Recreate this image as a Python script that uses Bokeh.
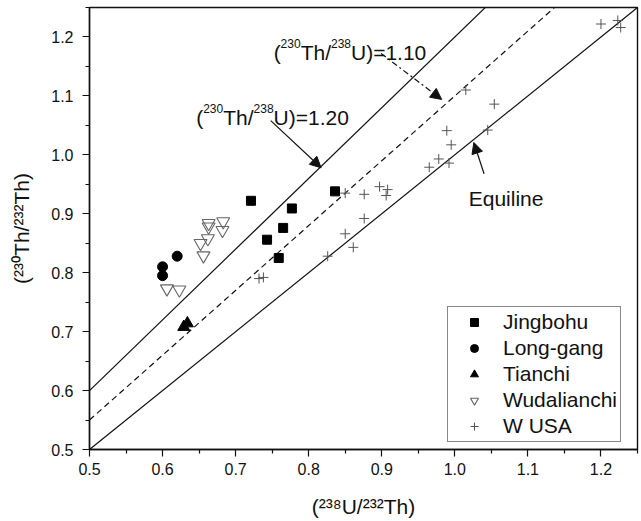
import math
from bokeh.plotting import figure
from bokeh.models import Label, Arrow, NormalHead, FixedTicker, Legend, LegendItem, Range1d
from bokeh.embed import file_html
from bokeh.resources import INLINE

# ---------------- data ----------------
jingbohu_x = [0.721, 0.777, 0.765, 0.743, 0.759, 0.836]
jingbohu_y = [0.922, 0.909, 0.876, 0.856, 0.825, 0.938]
longgang_x = [0.620, 0.600, 0.600]
longgang_y = [0.828, 0.810, 0.795]
tianchi_x = [0.629, 0.634]
tianchi_y = [0.708, 0.714]
wuda_x = [0.606, 0.623, 0.656, 0.652, 0.662, 0.663, 0.663, 0.683, 0.682]
wuda_y = [0.773, 0.771, 0.829, 0.850, 0.858, 0.884, 0.878, 0.887, 0.872]
wusa_x = [0.732, 0.738, 0.826, 0.850, 0.861, 0.850, 0.876, 0.876, 0.897, 0.908, 0.906,
          0.965, 0.978, 0.992, 0.995, 0.989, 1.045, 1.015, 1.054, 1.200, 1.223, 1.227]
wusa_y = [0.790, 0.792, 0.828, 0.866, 0.843, 0.935, 0.933, 0.892, 0.946, 0.941, 0.931,
          0.979, 0.993, 0.986, 1.017, 1.041, 1.042, 1.110, 1.086, 1.222, 1.228, 1.216]

ratio_values = [1.20, 1.10, 1.00]   # (230Th/238U) reference lines

x_ticks = [0.5, 0.6, 0.7, 0.8, 0.9, 1.0, 1.1, 1.2]
x_tick_labels = ["0.5", "0.6", "0.7", "0.8", "0.9", "1.0", "1.1", "1.2"]
x_minor = [0.55, 0.65, 0.75, 0.85, 0.95, 1.05, 1.15, 1.25]
y_ticks = [0.5, 0.6, 0.7, 0.8, 0.9, 1.0, 1.1, 1.2]
y_tick_labels = ["0.5", "0.6", "0.7", "0.8", "0.9", "1.0", "1.1", "1.2"]
y_minor = [0.55, 0.65, 0.75, 0.85, 0.95, 1.05, 1.15, 1.25]

x_title = "(²³⁸U/²³²Th)"
y_title = "(²³⁰Th/²³²Th)"
series_names = ["Jingbohu", "Long-gang", "Tianchi", "Wudalianchi", "W USA"]

X_LO, X_HI = 0.5, 1.25
Y_LO, Y_HI = 0.5, 1.25

FONT = "Liberation Sans"
INK = "#111111"

p = figure(frame_width=548, frame_height=442, output_backend="svg", toolbar_location=None,
           x_range=Range1d(X_LO, X_HI), y_range=Range1d(Y_LO, Y_HI),
           min_border_left=89, min_border_right=4, min_border_top=7, min_border_bottom=72)
p.background_fill_color = "white"
p.border_fill_color = "white"
p.outline_line_color = INK
p.outline_line_width = 1.4
p.xgrid.visible = False
p.ygrid.visible = False

for ax, ticks, labels, minor, standoff, title, tstand in (
        (p.xaxis[0], x_ticks, x_tick_labels, x_minor, 6, x_title, 17),
        (p.yaxis[0], y_ticks, y_tick_labels, y_minor, 9, y_title, 15)):
    ax.ticker = FixedTicker(ticks=ticks, minor_ticks=minor)
    ax.major_label_overrides = {t: l for t, l in zip(ticks, labels)}
    ax.major_label_text_font = FONT
    ax.major_label_text_font_size = "16px"
    ax.major_label_text_color = INK
    ax.major_label_standoff = standoff
    ax.axis_label = title
    ax.axis_label_text_font = FONT
    ax.axis_label_text_font_size = "21px"
    ax.axis_label_text_font_style = "normal"
    ax.axis_label_text_color = INK
    ax.axis_label_standoff = tstand
    ax.axis_line_color = INK
    ax.axis_line_width = 1.4
    ax.major_tick_line_color = INK
    ax.minor_tick_line_color = INK
    ax.major_tick_line_width = 1.2
    ax.minor_tick_line_width = 1.2
    ax.major_tick_in = 0
    ax.minor_tick_in = 0
    ax.major_tick_out = 7
    ax.minor_tick_out = 4

# reference lines
line_styles = ["solid", "6 4", "solid"]
for r, dash in zip(ratio_values, line_styles):
    p.line([X_LO, X_HI], [r * X_LO, r * X_HI], line_color=INK, line_width=1.2, line_dash=dash)

# data series
r1 = p.scatter(jingbohu_x, jingbohu_y, marker="square", size=9, fill_color="black", line_color="black")
r2 = p.scatter(longgang_x, longgang_y, marker="circle", size=10, fill_color="black", line_color="black")
r3 = p.scatter(tianchi_x, tianchi_y, marker="triangle", size=12, fill_color="black", line_color="black")
r4 = p.scatter(wuda_x, wuda_y, marker="inverted_triangle", size=13, fill_color=None,
               line_color="#666666", line_width=1.1)
r5 = p.scatter(wusa_x, wusa_y, marker="cross", size=10, line_color="#555555", line_width=1.0)

legend = Legend(items=[LegendItem(label=n, renderers=[r]) for n, r in zip(series_names, [r1, r2, r3, r4, r5])],
                location=(358, 7), label_text_font=FONT, label_text_font_size="21px",
                label_text_color=INK, border_line_color=INK, border_line_width=1.2,
                background_fill_alpha=1.0, padding=3, spacing=2, margin=0,
                glyph_width=46, glyph_height=20, label_height=20, label_standoff=6)
p.add_layout(legend, "center")

# ---------- rich text helper ----------
ADV = {"(": .333, ")": .333, "/": .278, "T": .611, "h": .556, "U": .722, "=": .584, ".": .278}
for d in "0123456789":
    ADV[d] = .556


def text_width(s, size):
    return sum(ADV.get(c, .556) for c in s) * size


def rich(x, y, pieces, M, S, rise):
    pos = 0.0
    for txt, sup in pieces:
        size = S if sup else M
        up = rise if sup else 0.0
        p.add_layout(Label(x=x, y=y, x_offset=pos, y_offset=up, text=txt,
                           text_font=FONT, text_font_size=f"{size}px", text_color=INK,
                           text_align="left", text_baseline="alphabetic"))
        pos += text_width(txt, size)


# annotation texts
rich(0.646, 1.063, [("(", 0), ("230", 1), ("Th/", 0), ("238", 1), ("U)=1.20", 0)], 21, 12, 9)
rich(0.752, 1.173, [("(", 0), ("230", 1), ("Th/", 0), ("238", 1), ("U)=1.10", 0)], 21, 12, 9)
p.add_layout(Label(x=1.019, y=0.926, text="Equiline", text_font=FONT, text_font_size="21px",
                   text_color=INK, text_align="left", text_baseline="alphabetic"))

# arrows
p.add_layout(Arrow(x_start=0.748, y_start=1.058, x_end=0.817, y_end=0.978, line_color=INK, line_width=1.2,
                   end=NormalHead(size=11, fill_color=INK, line_color=INK)))
p.add_layout(Arrow(x_start=0.899, y_start=1.172, x_end=0.982, y_end=1.094, line_color=INK, line_width=1.2,
                   line_dash="6 3 2 3", end=NormalHead(size=11, fill_color=INK, line_color=INK)))
p.add_layout(Arrow(x_start=1.040, y_start=0.968, x_end=1.026, y_end=1.021, line_color=INK, line_width=1.2,
                   end=NormalHead(size=11, fill_color=INK, line_color=INK)))

open("out.html", "w").write(file_html(p, INLINE))
